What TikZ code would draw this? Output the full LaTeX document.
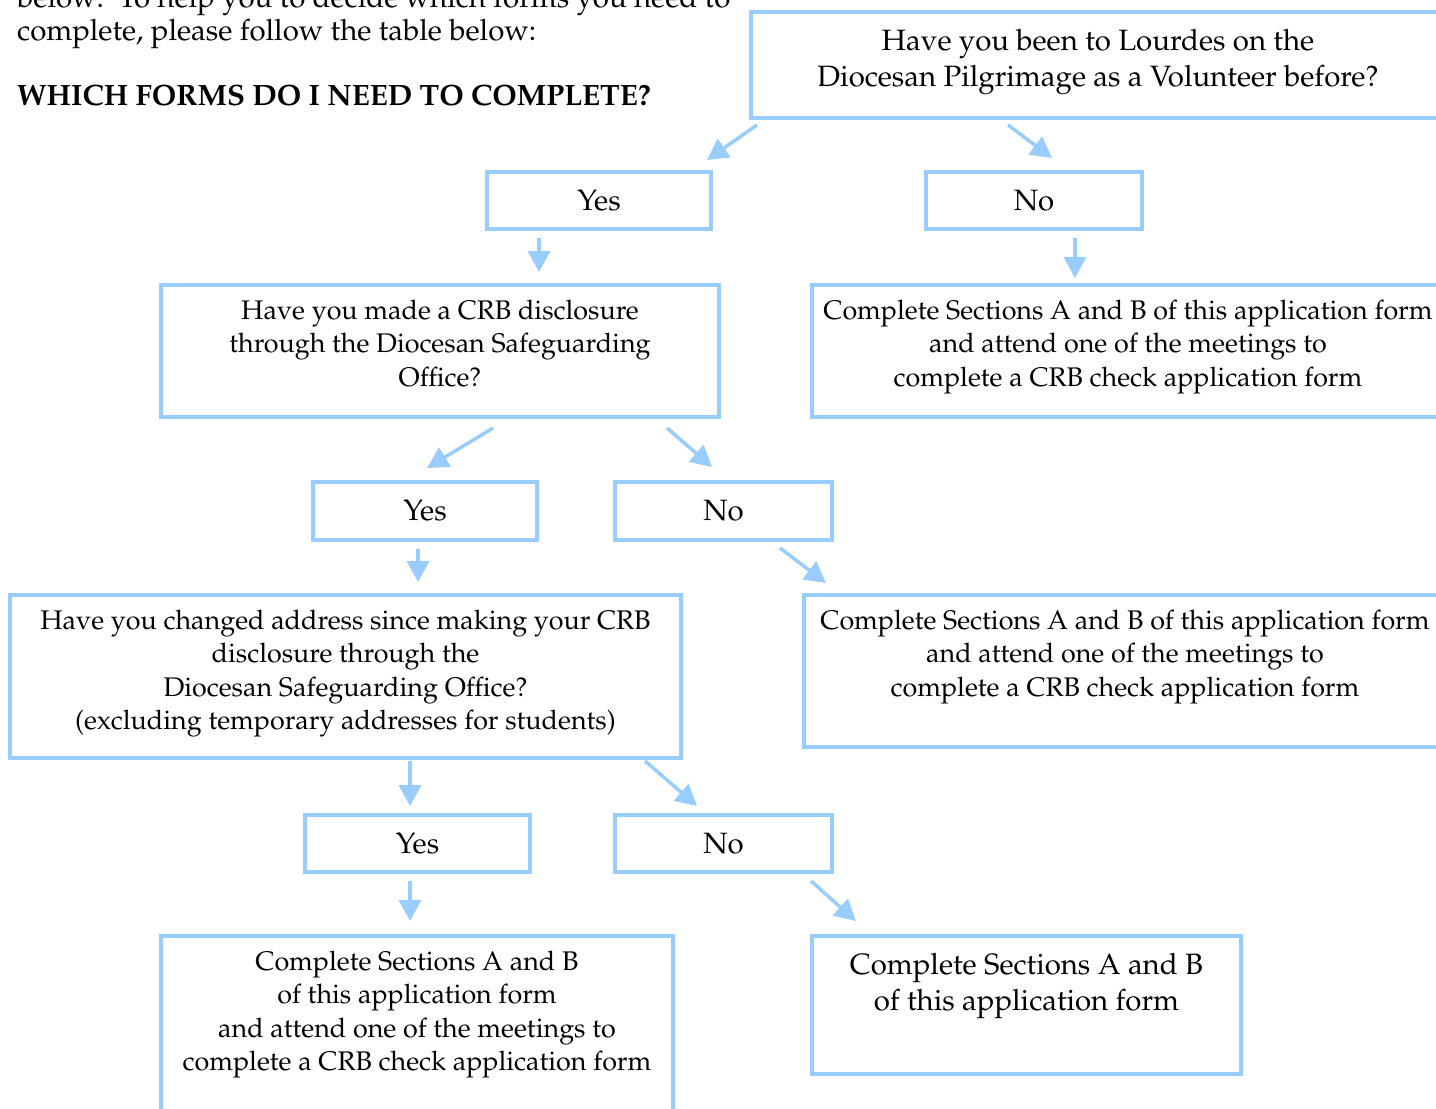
\documentclass[tikz,border=0pt]{standalone}
\usepackage[T1]{fontenc}
\usepackage{mathpazo}
\usepackage{xcolor}
\usetikzlibrary{positioning,arrows.meta}
\definecolor{lineblue}{RGB}{153,204,255}
\newcommand{\smalltxt}{\fontsize{26.9}{33.3}\selectfont}
\newcommand{\bigtxt}{\fontsize{29.4}{36}\selectfont}

\begin{document}
\begin{tikzpicture}[x=1pt,y=-1pt,>={Triangle[width=22pt,length=21pt]},
  box/.style={draw=lineblue, line width=4pt, outer sep=0pt, inner sep=0pt, anchor=north west},
  ans/.style={box, font=\bigtxt},
  txt/.style={align=center, inner sep=0pt, font=\smalltxt},
  intro/.style={anchor=base west, inner sep=0pt, font=\bigtxt},
  flow/.style={->, draw=lineblue, line width=3.5pt}]
  \useasboundingbox (0,0) rectangle (1436,1109);
  \clip (0,0) rectangle (1436,1109);
  % lead-in text
  \node[intro] (lead1) at (17,7) {below:\ \ To help you to decide which forms you need to};
  \node[intro] (lead2) at (17,40) {complete, please follow the table below:};
  \node[intro, font=\bigtxt\bfseries] (heading) at (17,105) {WHICH FORMS DO I NEED TO COMPLETE?};
  % boxes
  \node[box, minimum width=694pt, minimum height=106pt] (q1) at (751,12) {};
  \node[txt, font=\bigtxt, below=13.5pt of q1.north] (q1t) {\strut Have you been to Lourdes on the\\Diocesan Pilgrimage as a Volunteer before?};
  \node[ans, minimum width=224pt, minimum height=57pt] (yes1) at (487,172) {Yes};
  \node[ans, minimum width=216pt, minimum height=57pt] (no1) at (926,172) {No};
  \node[box, minimum width=558pt, minimum height=132pt] (q2) at (161,285) {};
  \node[txt, below=11pt of q2.north] (q2t) {\strut Have you made a CRB disclosure\\through the Diocesan Safeguarding\\Office?};
  \node[box, minimum width=632pt, minimum height=132pt] (r1) at (812,285) {};
  \node[txt, below=11pt of r1.north] (r1t) {\strut Complete Sections A and B of this application form\\and attend one of the meetings to\\complete a CRB check application form};
  \node[ans, minimum width=224pt, minimum height=58pt] (yes2) at (313,482) {Yes};
  \node[ans, minimum width=217pt, minimum height=58pt] (no2) at (615,482) {No};
  \node[box, minimum width=671pt, minimum height=163pt] (q3) at (10,595) {};
  \node[txt, below=11pt of q3.north] (q3t) {\strut Have you changed address since making your CRB\\disclosure through the\\Diocesan Safeguarding Office?\\(excluding temporary addresses for students)};
  \node[box, minimum width=642pt, minimum height=152pt] (r2) at (804,595) {};
  \node[txt, below=11pt of r2.north] (r2t) {\strut Complete Sections A and B of this application form\\and attend one of the meetings to\\complete a CRB check application form};
  \node[ans, minimum width=225pt, minimum height=57pt] (yes3) at (305,815) {Yes};
  \node[ans, minimum width=217pt, minimum height=57pt] (no3) at (615,815) {No};
  \node[box, minimum width=512pt, minimum height=200pt] (r3) at (161,936) {};
  \node[txt, below=11pt of r3.north] (r3t) {\strut Complete Sections A and B\\of this application form\\and attend one of the meetings to\\complete a CRB check application form};
  \node[box, minimum width=429pt, minimum height=138pt] (r4) at (812,936) {};
  \node[txt, font=\bigtxt, below=13pt of r4.north] (r4t) {\strut Complete Sections A and B\\of this application form};
  % connectors
  \draw[flow] ([shift={(6,7)}]q1.south west) -- ([shift={(-4,-12)}]yes1.north east);
  \draw[flow] ([shift={(257,7)}]q1.south west) -- ([shift={(18,-14)}]no1.north);
  \draw[flow] ([shift={(52,9)}]yes1.south west) -- ([shift={(378,-13)}]q2.north west);
  \draw[flow] ([shift={(149,9)}]no1.south west) -- ([shift={(263,-7)}]r1.north west);
  \draw[flow] ([shift={(332,11)}]q2.south west) -- ([shift={(114,-14)}]yes2.north west);
  \draw[flow] ([shift={(-52,11)}]q2.south east) -- ([shift={(97,-15)}]no2.north west);
  \draw[flow] ([shift={(105,9)}]yes2.south west) -- ([shift={(408,-13)}]q3.north west);
  \draw[flow] ([shift={(-52,8)}]no2.south east) -- ([shift={(22,-12)}]r2.north west);
  \draw[flow] ([shift={(400,3)}]q3.south west) -- ([shift={(105,-9)}]yes3.north west);
  \draw[flow] ([shift={(-36,3)}]q3.south east) -- ([shift={(82,-9)}]no3.north west);
  \draw[flow] ([shift={(105,9)}]yes3.south west) -- ([shift={(249,-15)}]r3.north west);
  \draw[flow] ([shift={(-21,9)}]no3.south east) -- ([shift={(44,-15)}]r4.north west);
\end{tikzpicture}
\end{document}
